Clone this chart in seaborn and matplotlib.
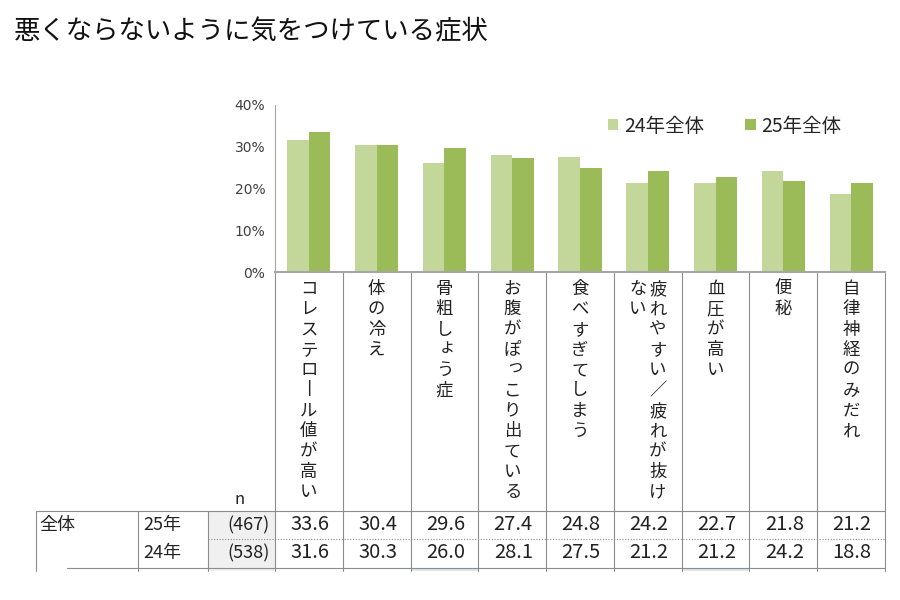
import numpy as np
import pandas as pd
import matplotlib.pyplot as plt
import seaborn as sns
from matplotlib.patches import Rectangle

# data
title = "悪くならないように気をつけている症状"
symptoms = ["コレステロール値が高い", "体の冷え", "骨粗しょう症", "お腹がぽっこり出ている",
            "食べすぎてしまう", "疲れやすい／疲れが抜けない", "血圧が高い", "便秘", "自律神経のみだれ"]
pct_25 = [33.6, 30.4, 29.6, 27.4, 24.8, 24.2, 22.7, 21.8, 21.2]
pct_24 = [31.6, 30.3, 26.0, 28.1, 27.5, 21.2, 21.2, 24.2, 18.8]
row_years = ["25年", "24年"]
row_n = [467, 538]
series = ["24年全体", "25年全体"]
colors = ["#c4d79b", "#9bbb59"]
yticks = [0, 10, 20, 30, 40]

sns.set_style("white")
plt.rcParams["font.family"] = ["Noto Sans CJK JP", "DejaVu Sans"]

df = pd.DataFrame({
    "症状": symptoms * 2,
    "割合": pct_24 + pct_25,
    "系列": [series[0]] * len(symptoms) + [series[1]] * len(symptoms),
})

W, H = 900, 600
fig = plt.figure(figsize=(9, 6), dpi=100)

# plot area in pixels
L, R, TOP, BASE = 275, 885, 105, 272
ax = fig.add_axes([L / W, 1 - BASE / H, (R - L) / W, (BASE - TOP) / H])
sns.barplot(data=df, x="症状", y="割合", hue="系列", order=symptoms, hue_order=series,
            palette=colors, saturation=1, width=0.635, linewidth=0, ax=ax)
ax.set_xlim(-0.5, len(symptoms) - 0.5)
ax.set_ylim(0, 40)
ax.set_yticks(yticks)
ax.set_yticklabels([f"{t}%" for t in yticks], fontfamily="DejaVu Sans", fontsize=10, color="#404040")
ax.set_xticks([])
ax.set_xlabel("")
ax.set_ylabel("")
ax.spines["top"].set_visible(False)
ax.spines["right"].set_visible(False)
ax.spines["left"].set_color("#a6a6a6")
ax.spines["bottom"].set_color("#a6a6a6")
ax.spines["bottom"].set_linewidth(1.5)
ax.tick_params(axis="y", length=4, color="#a6a6a6", pad=3)

handles, labels = ax.get_legend_handles_labels()
ax.legend(handles, labels, loc="upper left", bbox_to_anchor=(590 / W, 1 - 98 / H),
          bbox_transform=fig.transFigure, ncol=2, frameon=False, fontsize=14,
          handlelength=0.55, handleheight=0.55, handletextpad=0.3, columnspacing=2.1,
          labelcolor="#262626")

fig.text(14 / W, 1 - 32 / H, title, fontsize=19, va="center", ha="left", color="#111111")

# table under the chart, drawn in pixel coords
tab = fig.add_axes([0, 0, 1, 1])
tab.set_xlim(0, W)
tab.set_ylim(H, 0)
tab.axis("off")
tab.patch.set_alpha(0)

line_c = "#8c8c8c"
col_w = (R - L) / len(symptoms)
ROW_TOP, ROW_MID, ROW_BOT, CUT = 511, 539, 568, 571

tab.add_patch(Rectangle((208, ROW_TOP), L - 208, CUT - ROW_TOP, color="#f0f0f0", lw=0))
for i in [2, 6]:
    tab.add_patch(Rectangle((L + i * col_w, ROW_BOT), col_w, CUT - ROW_BOT, color="#dce6f1", lw=0))
for k in range(len(symptoms) + 1):
    x = L + k * col_w
    tab.plot([x, x], [BASE + 1, CUT], color=line_c, lw=0.8)
for x in [36, 138, 208]:
    tab.plot([x, x], [ROW_TOP, CUT], color=line_c, lw=0.8)
tab.plot([36, R], [ROW_TOP, ROW_TOP], color=line_c, lw=0.8)
tab.plot([208, R], [ROW_MID, ROW_MID], color=line_c, lw=0.8, ls=(0, (1, 1.5)))
tab.plot([67, R], [ROW_BOT, ROW_BOT], color=line_c, lw=0.8)

# vertical category labels
per_col = 11
pitch = 20.3
for i, name in enumerate(symptoms):
    cx = L + (i + 0.5) * col_w
    chunks = [name[j:j + per_col] for j in range(0, len(name), per_col)]
    n = len(chunks)
    for j, chunk in enumerate(chunks):
        x = cx + ((n - 1) / 2 - j) * 20
        for c, ch in enumerate(chunk):
            y = 289 + c * pitch
            if ch == "ー":
                ch = "丨"
            dx, dy = (3, -3) if ch in "ょっ" else (0, 0)
            tab.text(x + dx, y + dy, ch, fontsize=12.5, ha="center", va="center",
                     color="#222222")

tab.text(240, 499, "n", fontsize=12, ha="center", va="center", color="#222222")
tab.text(39, 525, "全体", fontsize=13, ha="left", va="center", color="#222222")
for r, (yr, nn, vals) in enumerate(zip(row_years, row_n, [pct_25, pct_24])):
    y = 525 + r * 28
    tab.text(143, y, yr, fontsize=13, ha="left", va="center", color="#222222")
    tab.text(270, y, f"({nn})", fontsize=13, ha="right", va="center", color="#222222")
    for i, v in enumerate(vals):
        tab.text(L + (i + 0.5) * col_w + 1, y, f"{v:.1f}", fontsize=14.5, ha="center",
                 va="center", color="#222222")

fig.savefig("out.png", dpi=100)
